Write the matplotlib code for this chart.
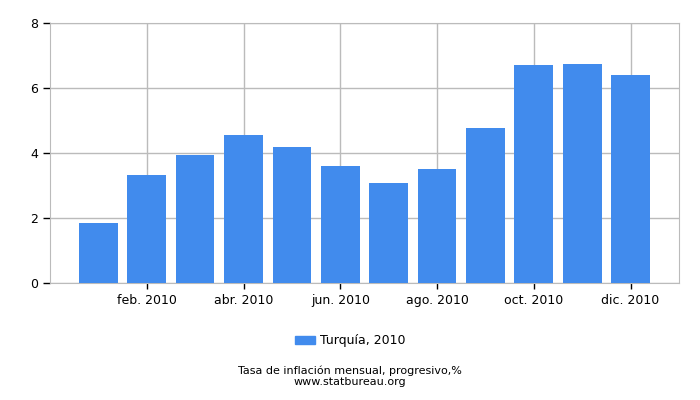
import matplotlib
matplotlib.use('Agg')
import matplotlib.pyplot as plt
import numpy as np
from matplotlib.patches import Patch

months = ['ene. 2010', 'feb. 2010', 'mar. 2010', 'abr. 2010', 'may. 2010', 'jun. 2010',
          'jul. 2010', 'ago. 2010', 'sep. 2010', 'oct. 2010', 'nov. 2010', 'dic. 2010']
values = [1.85, 3.32, 3.94, 4.55, 4.18, 3.60, 3.07, 3.50, 4.76, 6.70, 6.73, 6.40]
series_label = 'Turquía, 2010'
title = 'Tasa de inflación mensual, progresivo,%'
source = 'www.statbureau.org'

bar_color = '#418BED'
grid_color = '#BBBBBB'

fig = plt.figure(figsize=(7, 4), dpi=100)
ax = fig.add_axes([0.0714, 0.2925, 0.8986, 0.65])

x = np.arange(len(months))
ax.bar(x, values, width=0.8, color=bar_color, zorder=3)

ax.set_xlim(-1, len(months))
ax.set_ylim(0, 8)
ax.set_yticks([0, 2, 4, 6, 8])
ax.set_xticks(x[1::2])
ax.set_xticklabels(months[1::2])

ax.grid(True, color=grid_color, linewidth=1, zorder=0)
for s in ax.spines.values():
    s.set_color(grid_color)
ax.tick_params(axis='both', colors='black', labelsize=9, length=5, width=1, direction='out')
ax.tick_params(axis='x', length=4, pad=4)

fig.legend(handles=[Patch(color=bar_color, label=series_label)], loc='center',
           bbox_to_anchor=(0.5, 0.148), frameon=False, fontsize=9,
           handlelength=1.6, handleheight=0.7, handletextpad=0.4)
fig.text(0.5, 0.074, title, ha='center', va='center', fontsize=8)
fig.text(0.5, 0.045, source, ha='center', va='center', fontsize=8)

fig.savefig('out.png', dpi=100)
